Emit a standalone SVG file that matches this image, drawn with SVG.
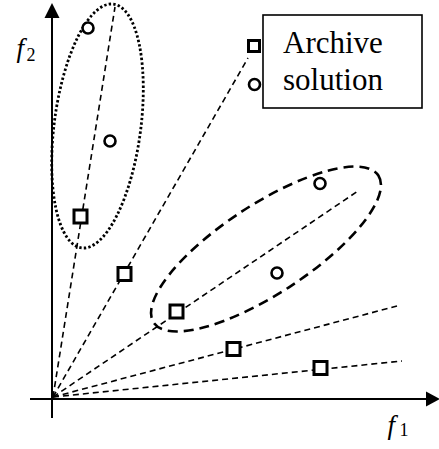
<svg xmlns="http://www.w3.org/2000/svg" width="439" height="449" viewBox="0 0 439 449">
<style>
.ray{fill:none;stroke:#000;stroke-width:1.6;stroke-dasharray:6,4}
.sq{fill:#fff;stroke:#000;stroke-width:3}
.ci{fill:#fff;stroke:#000;stroke-width:2.6}
.ax{stroke:#000;stroke-width:2;fill:none}
.lbl{font-family:"Liberation Serif","Times New Roman","DejaVu Serif",serif;fill:#000}
</style>
<rect width="439" height="449" fill="#fff"/>
<g id="axes">
<line class="ax" x1="52" y1="418" x2="52" y2="14"/>
<polygon points="52,3 44.5,18 59.5,18" fill="#000"/>
<line class="ax" x1="30" y1="399" x2="430" y2="399"/>
<polygon points="440,399 426,391.5 426,406.5" fill="#000"/>
<text class="lbl" x="16.5" y="57" font-size="27" font-style="italic">f</text>
<text class="lbl" x="26.5" y="61" font-size="18">2</text>
<text class="lbl" x="387.5" y="434" font-size="27" font-style="italic">f</text>
<text class="lbl" x="399.5" y="436" font-size="18">1</text>
</g>
<g id="connectors">
<line class="ray" x1="53" y1="397" x2="115" y2="7"/>
<line class="ray" x1="53" y1="397" x2="248" y2="58"/>
<line class="ray" x1="53" y1="397" x2="358" y2="191"/>
<line class="ray" x1="53" y1="397" x2="397" y2="306"/>
<line class="ray" x1="53" y1="397" x2="402" y2="361"/>
</g>
<g id="cluster-dotted">
<ellipse cx="97.5" cy="126" rx="43.3" ry="122.9" transform="rotate(7.45 97.5 126)" fill="none" stroke="#000" stroke-width="2.8" stroke-dasharray="2.4,2.2"/>
</g>
<g id="cluster-dashed">
<ellipse cx="266" cy="249" rx="134.3" ry="44.6" transform="rotate(-33.2 266 249)" fill="none" stroke="#000" stroke-width="2.6" stroke-dasharray="10,6"/>
</g>
<g id="points">
<rect class="sq" x="74" y="210" width="13" height="13"/>
<rect class="sq" x="118" y="267.5" width="13" height="13"/>
<rect class="sq" x="170" y="305" width="13" height="13"/>
<rect class="sq" x="227" y="342.5" width="13" height="13"/>
<rect class="sq" x="314" y="361.5" width="13" height="13"/>
<circle class="ci" cx="88" cy="28" r="5.5"/>
<circle class="ci" cx="110" cy="141" r="5.5"/>
<circle class="ci" cx="320" cy="183.5" r="5.5"/>
<circle class="ci" cx="277" cy="273" r="5.5"/>
</g>
<g id="legend">
<rect x="263" y="15" width="159" height="93" fill="#fff" stroke="#000" stroke-width="1.6"/>
<rect class="sq" x="248.5" y="40.5" width="11" height="11" stroke-width="2.6"/>
<circle class="ci" cx="254.5" cy="84.5" r="5.5"/>
<text class="lbl" x="283" y="53" font-size="31">Archive</text>
<text class="lbl" x="283" y="90" font-size="31">solution</text>
</g>
</svg>
